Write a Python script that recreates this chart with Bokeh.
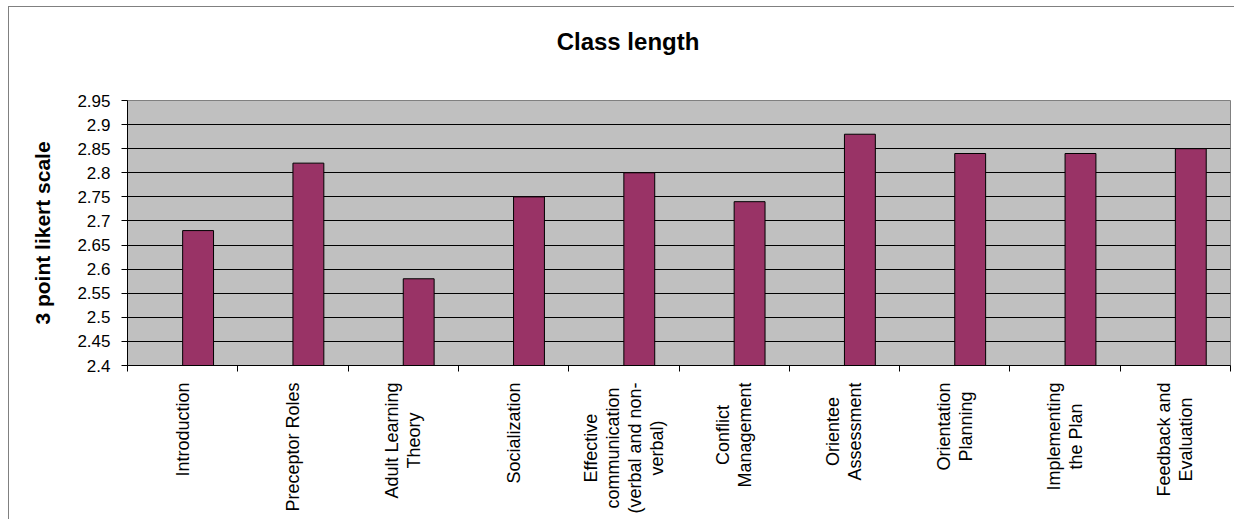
from bokeh.plotting import figure
from bokeh.models import ColumnDataSource, FixedTicker, Range1d
from bokeh.layouts import column
from bokeh.transform import dodge
from bokeh.embed import file_html
from bokeh.resources import INLINE
import math

categories = [
    "Introduction",
    "Preceptor Roles",
    "Adult Learning\nTheory",
    "Socialization",
    "Effective\ncommunication\n(verbal and non-\nverbal)",
    "Conflict\nManagement",
    "Orientee\nAssessment",
    "Orientation\nPlanning",
    "Implementing\nthe Plan",
    "Feedback and\nEvaluation",
]
scores = [2.68, 2.82, 2.58, 2.75, 2.80, 2.74, 2.88, 2.84, 2.84, 2.85]
y_ticks = [2.4, 2.45, 2.5, 2.55, 2.6, 2.65, 2.7, 2.75, 2.8, 2.85, 2.9, 2.95]
y_tick_labels = ["2.4", "2.45", "2.5", "2.55", "2.6", "2.65", "2.7", "2.75",
                 "2.8", "2.85", "2.9", "2.95"]
title_text = "Class length"
y_label = "3 point likert scale"

positions = list(range(1, len(categories) + 1))
boundaries = [p - 0.5 for p in positions] + [positions[-1] + 0.5]

FONT = "Liberation Sans"
BORDER = "1px solid #808080"
W = 1226
x_range = Range1d(0.5, len(categories) + 0.5)


def bare(fig):
    fig.xgrid.grid_line_color = None
    fig.ygrid.grid_line_color = None
    fig.outline_line_color = None
    fig.background_fill_color = "white"
    fig.border_fill_color = "white"


# ---- title strip ----
pt = figure(width=W, height=84, x_range=Range1d(0, 1), y_range=Range1d(0, 1),
            x_axis_location=None, y_axis_location=None,
            output_backend="svg", toolbar_location=None,
            min_border_left=10, min_border_right=0,
            min_border_top=20, min_border_bottom=0)
bare(pt)
pt.styles = {"border-left": BORDER, "border-top": BORDER,
             "margin-left": "8px", "margin-top": "6px"}
pt.text(x=[0.5], y=[1], text=[title_text], text_align="center",
        text_baseline="top", x_offset=-51, text_font={"value": FONT},
        text_font_size="24px", text_font_style="bold", text_color="black")

# ---- main chart ----
p = figure(
    width=W, height=287,
    x_range=x_range,
    y_range=Range1d(y_ticks[0], y_ticks[-1]),
    output_backend="svg", toolbar_location=None,
    min_border_left=118, min_border_right=5,
    min_border_top=10, min_border_bottom=12,
    background_fill_color="#C0C0C0",
    border_fill_color="white",
)
p.styles = {"border-left": BORDER, "margin-left": "8px"}
p.outline_line_color = "#808080"

source = ColumnDataSource(dict(x=positions, top=scores))
p.vbar(x=dodge("x", 0.14, range=p.x_range), top="top", bottom=y_ticks[0],
       width=0.28, source=source, fill_color="#993366",
       line_color="black", line_width=1)

ya = p.yaxis[0]
ya.ticker = FixedTicker(ticks=y_ticks)
ya.major_label_overrides = {t: s for t, s in zip(y_ticks, y_tick_labels)}
ya.major_label_text_font = FONT
ya.major_label_text_font_size = "17px"
ya.major_label_text_color = "black"
ya.major_tick_out = 6
ya.major_tick_in = 0
ya.minor_tick_out = 0
ya.minor_tick_in = 0
ya.major_label_standoff = 11
ya.axis_line_color = "black"
ya.major_tick_line_color = "black"
ya.axis_label = y_label
ya.axis_label_text_font = FONT
ya.axis_label_text_font_size = "21px"
ya.axis_label_text_font_style = "bold"
ya.axis_label_text_color = "black"
ya.axis_label_standoff = 20

# x axis: only the boundary tick marks (category names are drawn below)
xa = p.xaxis[0]
xa.ticker = FixedTicker(ticks=[], minor_ticks=boundaries)
xa.major_label_standoff = 0
xa.major_tick_out = 0
xa.major_tick_in = 0
xa.minor_tick_out = 6
xa.minor_tick_in = 0
xa.minor_tick_line_color = "black"
xa.axis_line_color = "black"

p.xgrid.grid_line_color = None
p.ygrid.ticker = FixedTicker(ticks=y_ticks[1:-1])
p.ygrid.grid_line_color = "black"
p.ygrid.grid_line_width = 1

# ---- category labels strip (centred multi-line, rotated) ----
pl = figure(width=W, height=142, x_range=x_range, y_range=Range1d(0, 1),
            x_axis_location=None, y_axis_location=None,
            output_backend="svg", toolbar_location=None,
            min_border_left=118, min_border_right=5,
            min_border_top=5, min_border_bottom=0)
bare(pl)
pl.styles = {"border-left": BORDER, "margin-left": "8px"}
lab_src = ColumnDataSource(dict(x=positions, label=categories))
pl.text(x="x", y=1, text="label", source=lab_src, angle=math.pi / 2,
        text_align="center", anchor="center_right",
        text_font={"value": FONT}, text_font_size="18px", text_color="black",
        text_line_height=1.1)

layout = column(pt, p, pl, spacing=0)
open("out.html", "w").write(file_html(layout, INLINE))
